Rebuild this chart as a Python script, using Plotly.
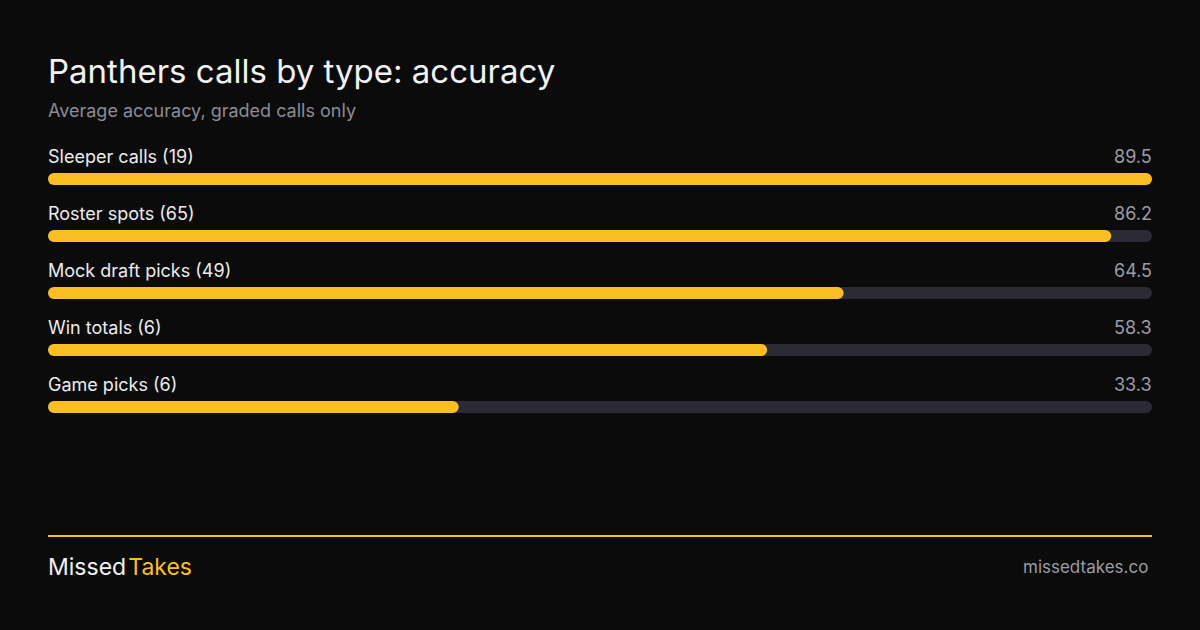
import plotly.graph_objects as go

categories = ["Sleeper calls", "Roster spots", "Mock draft picks", "Win totals", "Game picks"]
counts = [19, 65, 49, 6, 6]
accuracy = [89.5, 86.2, 64.5, 58.3, 33.3]

title = "Panthers calls by type: accuracy"
subtitle = "Average accuracy, graded calls only"

BG = "#0b0b0c"
AMBER = "#fbbf24"
TRACK = "#2c2a35"
FONT = "Inter"

W, H = 1200, 630
L, R = 48, 48
plot_w = W - L - R
xmax = max(accuracy)
row0_px, row_step = 179, 57
bar_px = 12

y_top = -row0_px / row_step
y_bot = (H - row0_px) / row_step
rows = list(range(len(categories)))


def rounded_bar(values, color):
    # explicit base -> plotly rounds both ends of the bar
    return go.Bar(y=rows, x=values, base=[0] * len(values),
                  orientation="h", marker=dict(color=color, line=dict(width=0)),
                  width=bar_px / row_step, hoverinfo="skip", showlegend=False)


fig = go.Figure()
fig.add_trace(rounded_bar([xmax] * len(rows), TRACK))
fig.add_trace(rounded_bar(accuracy, AMBER))

annotations = []
for i, (c, n, v) in enumerate(zip(categories, counts, accuracy)):
    annotations.append(dict(x=0, y=i, xref="x", yref="y", text=f"{c} ({n})",
                            xanchor="left", yanchor="middle", yshift=23, xshift=-2,
                            showarrow=False,
                            font=dict(family=FONT, size=18, color="#ececec")))
    annotations.append(dict(x=xmax, y=i, xref="x", yref="y", text=f"{v:.1f}",
                            xanchor="right", yanchor="middle", yshift=23, xshift=2,
                            showarrow=False,
                            font=dict(family=FONT, size=18, color="#9d9ca6")))


def px_x(px):
    return (px - L) / plot_w


def px_y(px):
    return 1 - px / H


annotations += [
    dict(x=px_x(48), y=px_y(71), xref="paper", yref="paper", text=title, xanchor="left",
         xshift=-2, yanchor="middle", showarrow=False,
         font=dict(family=FONT, size=33, color="#f2f2f2")),
    dict(x=px_x(48), y=px_y(110), xref="paper", yref="paper", text=subtitle, xanchor="left",
         xshift=-2, yanchor="middle", showarrow=False,
         font=dict(family=FONT, size=18, color="#8c8b96")),
    dict(x=px_x(48), y=px_y(567), xref="paper", yref="paper",
         text=f"Missed\u200a<span style='color:{AMBER}'>Takes</span>", xanchor="left",
         xshift=-2, yanchor="middle", showarrow=False,
         font=dict(family=FONT, size=23, color="#f2f2f2")),
    dict(x=px_x(1148), y=px_y(567), xref="paper", yref="paper", text="missedtakes.co",
         xanchor="right", xshift=2, yanchor="middle", showarrow=False,
         font=dict(family=FONT, size=17, color="#9d9ca6")),
]

fig.update_layout(
    width=W, height=H, paper_bgcolor=BG, plot_bgcolor=BG,
    margin=dict(l=L, r=R, t=0, b=0), barmode="overlay", barcornerradius=bar_px / 2,
    xaxis=dict(range=[0, xmax], visible=False, fixedrange=True),
    yaxis=dict(range=[y_bot, y_top], visible=False, fixedrange=True),
    annotations=annotations,
    shapes=[dict(type="line", xref="paper", yref="paper", x0=0, x1=1,
                 y0=px_y(536), y1=px_y(536), line=dict(color=AMBER, width=2))],
)

fig.write_html("out.html", config={"displayModeBar": False},
               post_script="document.body.style.margin='0';document.body.style.background='" + BG + "';")
